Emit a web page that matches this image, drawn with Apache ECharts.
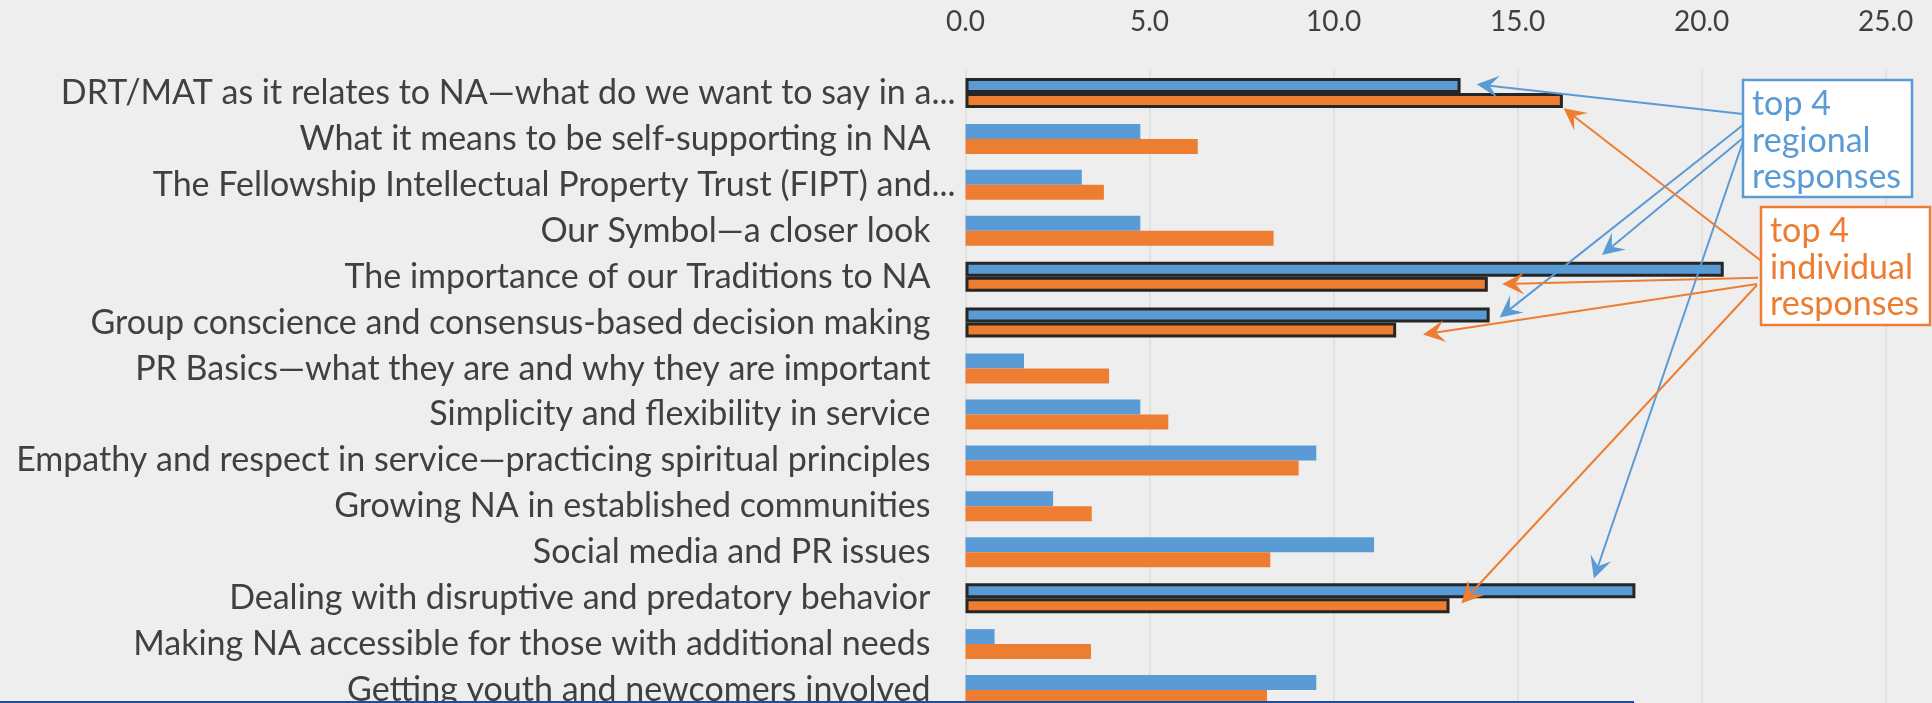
<!DOCTYPE html>
<html>
<head>
<meta charset="utf-8">
<script src="https://cdn.jsdelivr.net/npm/echarts@6/dist/echarts.min.js"></script>
<style>
  html, body { margin: 0; padding: 0; overflow: hidden; background: #eeeeee; }
  #main { width: 1932px; height: 713px; }
</style>
</head>
<body>
<div id="main"></div>
<script>
// topics, top to bottom
var categories = [
  'DRT/MAT as it relates to NA—what do we want to say in a...',
  'What it means to be self-supporting in NA',
  'The Fellowship Intellectual Property Trust (FIPT) and...',
  'Our Symbol—a closer look',
  'The importance of our Traditions to NA',
  'Group conscience and consensus-based decision making',
  'PR Basics—what they are and why they are important',
  'Simplicity and flexibility in service',
  'Empathy and respect in service—practicing spiritual principles',
  'Growing NA in established communities',
  'Social media and PR issues',
  'Dealing with disruptive and predatory behavior',
  'Making NA accessible for those with additional needs',
  'Getting youth and newcomers involved'
];
var regional   = [13.45, 4.75, 3.16, 4.75, 20.6, 14.24, 1.59, 4.75, 9.53, 2.38, 11.1, 18.2, 0.79, 9.53];
var individual = [16.23, 6.31, 3.76, 8.37, 14.19, 11.70, 3.90, 5.51, 9.05, 3.43, 8.28, 13.15, 3.41, 8.19];
var xTicks = [0, 5, 10, 15, 20, 25];

var BLUE = '#5b9bd5';
var ORANGE = '#ed7d31';
var FONT = 'Lato';

// arrows: from a point on the note box to a spot near a bar (value, category index, pixel nudge)
var regionalArrows = [
  { from: [1743, 114],   val: 13.89, cat: 0,  dy: -8.7 },
  { from: [1743, 125],   val: 14.51, cat: 5,  dy: -5.2 },
  { from: [1743, 138],   val: 17.29, cat: 4,  dy: -21.6 },
  { from: [1743, 141.5], val: 17.07, cat: 11, dy: -19.6 }
];
var individualArrows = [
  { from: [1760, 260],   val: 16.25, cat: 0,  dy: 15.3 },
  { from: [1758, 277.7], val: 14.58, cat: 4,  dy: 7.4 },
  { from: [1757, 284],   val: 12.43, cat: 5,  dy: 11.8 },
  { from: [1757, 285],   val: 13.47, cat: 11, dy: 5.4 }
];

function top4(arr) {
  return arr.map(function (v, i) { return [v, i]; })
    .sort(function (a, b) { return b[0] - a[0]; })
    .slice(0, 4).map(function (d) { return d[1]; });
}

function barData(arr) {
  var best = top4(arr);
  return arr.map(function (v, i) {
    if (best.indexOf(i) < 0) return v;
    return { value: v, itemStyle: { borderColor: '#262626', borderWidth: 3 } };
  });
}

var chart = echarts.init(document.getElementById('main'));

var option = {
  backgroundColor: '#eeeeee',
  animation: false,
  textStyle: { fontFamily: FONT },
  grid: { left: 965.5, right: 46.3, top: 70, bottom: 0 },
  xAxis: {
    type: 'value',
    position: 'top',
    min: xTicks[0],
    max: xTicks[xTicks.length - 1],
    interval: xTicks[1] - xTicks[0],
    axisLine: { show: false },
    axisTick: { show: false },
    axisLabel: {
      fontSize: 28, color: '#404040', margin: 34,
      formatter: function (v) { return v.toFixed(1); }
    },
    splitLine: { lineStyle: { color: '#dcdcdc', width: 1.5 } }
  },
  yAxis: {
    type: 'category',
    data: categories,
    inverse: true,
    axisLine: { show: false },
    axisTick: { show: false },
    axisLabel: {
      fontSize: 34, color: '#404040', margin: 10,
      formatter: function (v) {
        return v.slice(-3) === '...' ? v : v + '{pad|}';
      },
      rich: { pad: { width: 25 } }
    }
  },
  series: [
    {
      name: 'regional', type: 'bar', data: barData(regional),
      barWidth: 15, barGap: '0%',
      itemStyle: { color: BLUE }
    },
    {
      name: 'individual', type: 'bar', data: barData(individual),
      barWidth: 15, barGap: '0%',
      itemStyle: { color: ORANGE }
    }
  ]
};
chart.setOption(option);

function arrowEls(a, color) {
  var p = chart.convertToPixel({ gridIndex: 0 }, [a.val, a.cat]);
  var tip = [p[0], p[1] + a.dy];
  var dx = tip[0] - a.from[0], dy = tip[1] - a.from[1];
  var len = Math.sqrt(dx * dx + dy * dy);
  var ux = dx / len, uy = dy / len, nx = -uy, ny = ux;
  var L = 22, W = 11, N = 13;
  var back = [tip[0] - L * ux, tip[1] - L * uy];
  var notch = [tip[0] - N * ux, tip[1] - N * uy];
  return [
    {
      type: 'line', z: 100,
      shape: { x1: a.from[0], y1: a.from[1], x2: notch[0], y2: notch[1] },
      style: { stroke: color, lineWidth: 2 }
    },
    {
      type: 'polygon', z: 100,
      shape: { points: [tip, [back[0] + W * nx, back[1] + W * ny], notch, [back[0] - W * nx, back[1] - W * ny]] },
      style: { fill: color }
    }
  ];
}

function noteBox(x, y, w, h, color, txt) {
  return {
    type: 'group', z: 110,
    children: [
      { type: 'rect', shape: { x: x, y: y, width: w, height: h }, style: { fill: '#ffffff', stroke: color, lineWidth: 2.5 } },
      { type: 'text', x: x + 9, y: y + 6, style: { text: txt, fill: color, font: '34px ' + FONT, lineHeight: 36.5, verticalAlign: 'top' } }
    ]
  };
}

var els = [];
regionalArrows.forEach(function (a) { els = els.concat(arrowEls(a, BLUE)); });
individualArrows.forEach(function (a) { els = els.concat(arrowEls(a, ORANGE)); });
els.push(noteBox(1743, 80, 169, 117, BLUE, 'top 4\nregional\nresponses'));
els.push(noteBox(1761, 207, 169, 118, ORANGE, 'top 4\nindividual\nresponses'));
// thin blue rule along the bottom edge
els.push({ type: 'rect', z: 120, shape: { x: 0, y: 701, width: 1634, height: 2 }, style: { fill: '#1f4e9c' } });
chart.setOption({ graphic: els });
</script>
</body>
</html>
